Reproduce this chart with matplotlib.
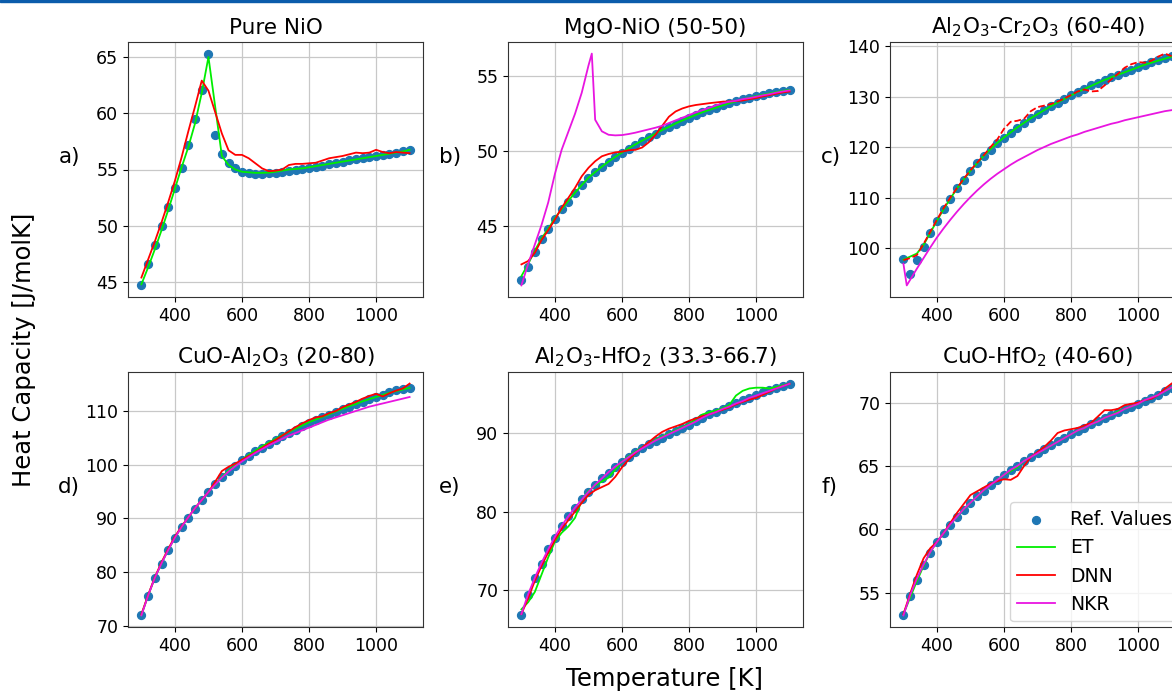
import matplotlib
matplotlib.use("Agg")
import matplotlib.pyplot as plt
from matplotlib.patches import Rectangle
from matplotlib.ticker import MultipleLocator

# ---------------- data ----------------
T = list(range(300, 1101, 20))

titles = ["Pure NiO", "MgO-NiO (50-50)", r"Al$_2$O$_3$-Cr$_2$O$_3$ (60-40)",
          r"CuO-Al$_2$O$_3$ (20-80)", r"Al$_2$O$_3$-HfO$_2$ (33.3-66.7)", r"CuO-HfO$_2$ (40-60)"]
panel_labels = ["a)", "b)", "c)", "d)", "e)", "f)"]
y_steps = [5, 5, 10, 10, 10, 5]

# a) Pure NiO
ref_a = [44.7, 46.6, 48.3, 50.0, 51.7, 53.4, 55.1, 57.2, 59.5, 62.1, 65.3, 58.1, 56.4, 55.6, 55.1,
         54.8, 54.65, 54.6, 54.6, 54.65, 54.7, 54.8, 54.85, 54.95, 55.05, 55.1, 55.2, 55.3, 55.45,
         55.6, 55.7, 55.8, 55.9, 56.0, 56.1, 56.2, 56.3, 56.4, 56.5, 56.6, 56.7]
et_a = [44.8, 46.3, 47.9, 49.6, 51.4, 53.3, 55.2, 57.0, 59.1, 61.8, 65.0, 60.6, 56.2, 55.4, 55.0,
        54.8, 54.75, 54.7, 54.7, 54.72, 54.8, 54.9, 55.0, 55.05, 55.1, 55.2, 55.3, 55.4, 55.5,
        55.6, 55.7, 55.8, 55.9, 56.0, 56.1, 56.2, 56.3, 56.4, 56.5, 56.6, 56.75]
dnn_a = [45.4, 47.0, 48.6, 50.3, 52.1, 54.0, 56.1, 58.4, 60.6, 62.9, 62.0, 60.1, 58.2, 56.7, 56.3,
         56.3, 56.0, 55.55, 55.1, 54.85, 54.9, 55.0, 55.4, 55.5, 55.5, 55.55, 55.6, 55.8, 56.0,
         56.1, 56.2, 56.35, 56.5, 56.45, 56.5, 56.75, 56.55, 56.45, 56.55, 56.5, 56.45]

# b) MgO-NiO
ref_b = [41.45, 42.3, 43.3, 44.14, 44.8, 45.53, 46.13, 46.66, 47.23, 47.74, 48.23, 48.6, 48.96,
         49.3, 49.62, 49.9, 50.18, 50.45, 50.7, 50.93, 51.17, 51.42, 51.6, 51.84, 52.04, 52.23,
         52.41, 52.6, 52.74, 52.9, 53.05, 53.2, 53.32, 53.45, 53.56, 53.67, 53.76, 53.85, 53.94,
         54.03, 54.1]
et_b = [41.7, 42.5, 43.4, 44.2, 44.85, 45.55, 46.15, 46.7, 47.25, 47.75, 48.25, 48.62, 48.98,
        49.32, 49.63, 49.92, 50.2, 50.46, 50.71, 50.94, 51.18, 51.42, 51.62, 51.85, 52.05, 52.24,
        52.42, 52.6, 52.75, 52.9, 53.05, 53.2, 53.32, 53.45, 53.56, 53.67, 53.76, 53.85, 53.94,
        54.02, 54.08]
dnn_b = [42.48, 42.7, 43.25, 44.1, 44.75, 45.46, 46.24, 46.9, 47.57, 48.34, 48.9, 49.34, 49.67,
         49.82, 49.93, 49.98, 50.07, 50.1, 50.25, 50.6, 51.1, 51.7, 52.3, 52.65, 52.85, 52.99,
         53.08, 53.14, 53.2, 53.25, 53.3, 53.32, 53.34, 53.38, 53.47, 53.54, 53.65, 53.74, 53.83,
         53.92, 53.98]
T_nkr_b = [300, 320, 340, 360, 380, 400, 420, 440, 460, 480, 500, 510, 520, 540, 560, 580, 600,
           620, 640, 660, 680, 700, 720, 740, 760, 780, 800, 820, 840, 860, 880, 900, 920, 940,
           960, 980, 1000, 1020, 1040, 1060, 1080, 1100]
nkr_b = [41.08, 42.5, 43.8, 45.1, 46.6, 48.5, 50.1, 51.3, 52.5, 53.9, 55.7, 56.5, 52.1, 51.33,
         51.1, 51.06, 51.08, 51.15, 51.24, 51.35, 51.46, 51.57, 51.7, 51.88, 52.06, 52.23, 52.41,
         52.59, 52.74, 52.9, 53.05, 53.2, 53.3, 53.36, 53.47, 53.54, 53.63, 53.72, 53.8, 53.9,
         53.98, 54.05]

# c) Al2O3-Cr2O3
ref_c = [97.9, 94.95, 97.6, 100.3, 102.9, 105.45, 107.8, 109.8, 111.8, 113.55, 115.3, 116.75,
         118.2, 119.5, 120.7, 121.85, 122.85, 123.85, 124.85, 125.65, 126.5, 127.3, 128.05, 128.8,
         129.5, 130.25, 130.9, 131.55, 132.2, 132.75, 133.3, 133.85, 134.35, 134.85, 135.3, 135.8,
         136.3, 136.75, 137.2, 137.65, 138.1]
et_c = [97.7, 98.3, 98.9, 100.6, 103.0, 105.4, 107.7, 109.8, 111.8, 113.6, 115.3, 116.8, 118.3,
        119.6, 120.8, 121.9, 122.9, 123.9, 124.8, 125.7, 126.5, 127.3, 128.1, 128.8, 129.5, 130.2,
        130.9, 131.5, 132.1, 132.7, 133.3, 133.8, 134.3, 134.8, 135.3, 135.8, 136.3, 136.7, 137.1,
        137.5, 137.9]
dnn_c = [97.6, 98.0, 98.6, 100.8, 103.2, 105.6, 107.9, 110.0, 111.9, 113.7, 115.4, 116.9, 118.4,
         120.0, 121.5, 123.6, 125.0, 125.2, 125.6, 127.1, 127.9, 128.2, 128.5, 129.0, 129.6, 130.3,
         131.0, 131.4, 131.0, 131.1, 132.2, 133.4, 134.5, 135.7, 136.4, 136.8, 136.7, 137.1, 137.9,
         138.5, 138.0]
T_nkr_c = [300, 310, 320, 340, 360, 380, 400, 420, 440, 460, 480, 500, 520, 540, 560, 580, 600,
           620, 640, 660, 680, 700, 720, 740, 760, 780, 800, 820, 840, 860, 880, 900, 920, 940,
           960, 980, 1000, 1020, 1040, 1060, 1080, 1100]
nkr_c = [96.9, 92.6, 93.7, 95.9, 98.0, 100.1, 102.1, 103.9, 105.6, 107.2, 108.7, 110.1, 111.4,
         112.6, 113.7, 114.7, 115.6, 116.5, 117.3, 118.0, 118.7, 119.4, 120.0, 120.6, 121.1, 121.6,
         122.1, 122.5, 123.0, 123.4, 123.8, 124.2, 124.6, 124.9, 125.3, 125.6, 125.9, 126.2, 126.5,
         126.8, 127.1, 127.3]

# d) CuO-Al2O3
ref_d = [71.9, 75.57, 78.8, 81.45, 84.0, 86.3, 88.33, 90.12, 91.8, 93.34, 94.83, 96.3, 97.6,
         98.73, 99.78, 100.77, 101.64, 102.45, 103.19, 103.93, 104.61, 105.3, 105.98, 106.53,
         107.15, 107.7, 108.27, 108.82, 109.32, 109.8, 110.3, 110.8, 111.3, 111.73, 112.17, 112.6,
         113.03, 113.47, 113.84, 114.15, 114.33]
et_d = [72.0, 75.6, 78.9, 81.6, 84.1, 86.4, 88.4, 90.2, 91.9, 93.4, 94.9, 96.3, 97.7, 98.9, 99.9,
        100.9, 101.8, 102.6, 103.4, 104.1, 104.8, 105.5, 106.1, 106.7, 107.3, 107.9, 108.4, 108.9,
        109.4, 109.9, 110.4, 110.9, 111.3, 111.8, 112.2, 112.6, 113.0, 113.4, 113.7, 114.0, 114.3]
dnn_d = [72.1, 75.7, 79.0, 81.8, 84.3, 86.6, 88.5, 90.2, 91.9, 93.4, 94.9, 96.8, 98.8, 99.6, 100.2,
         100.9, 101.6, 102.3, 103.1, 103.9, 104.6, 105.4, 106.2, 107.0, 107.7, 108.3, 108.8, 109.0,
         109.6, 110.0, 110.7, 111.2, 111.7, 112.3, 112.8, 113.2, 112.7, 113.3, 113.8, 114.2, 115.1]
nkr_d = [71.9, 75.6, 78.9, 81.6, 84.1, 86.4, 88.4, 90.2, 91.9, 93.4, 94.9, 96.3, 97.6, 98.7, 99.7,
         100.6, 101.4, 102.2, 102.9, 103.6, 104.2, 104.8, 105.4, 105.9, 106.4, 106.9, 107.4, 107.9,
         108.4, 108.8, 109.2, 109.6, 110.0, 110.4, 110.8, 111.1, 111.4, 111.7, 112.0, 112.3, 112.6]

# e) Al2O3-HfO2
ref_e = [66.83, 69.37, 71.6, 73.38, 75.2, 76.68, 78.16, 79.39, 80.49, 81.54, 82.52, 83.4, 84.2,
         84.93, 85.64, 86.28, 86.91, 87.5, 88.05, 88.56, 88.98, 89.37, 89.79, 90.21, 90.6, 90.97,
         91.48, 91.9, 92.33, 92.66, 93.04, 93.38, 93.72, 94.1, 94.44, 94.78, 95.12, 95.41, 95.71,
         95.96, 96.22]
et_e = [67.6, 68.5, 69.8, 72.0, 74.2, 76.2, 77.3, 78.1, 79.2, 81.4, 82.6, 83.3, 83.8, 84.3, 85.3,
        86.3, 87.0, 87.6, 88.1, 88.6, 89.1, 89.5, 89.9, 90.3, 90.7, 91.1, 91.7, 92.3, 92.6, 92.8,
        93.1, 93.5, 94.7, 95.3, 95.6, 95.7, 95.7, 95.6, 95.8, 96.0, 96.2]
dnn_e = [67.0, 69.0, 71.2, 73.1, 74.8, 76.4, 77.8, 78.9, 80.0, 81.1, 82.1, 82.7, 83.1, 83.5, 84.4,
         85.6, 86.6, 87.4, 88.1, 88.8, 89.5, 90.1, 90.5, 90.8, 91.1, 91.5, 91.8, 92.1, 92.3, 92.6,
         92.9, 93.2, 93.6, 93.9, 94.2, 94.4, 94.8, 95.2, 95.6, 95.9, 96.2]
nkr_e = [67.0, 69.5, 71.6, 73.5, 75.2, 76.8, 78.2, 79.4, 80.5, 81.5, 82.5, 83.4, 84.2, 85.0, 85.7,
         86.3, 86.9, 87.5, 88.0, 88.5, 89.0, 89.4, 89.8, 90.2, 90.6, 91.0, 91.4, 91.9, 92.3, 92.6,
         93.0, 93.3, 93.7, 94.0, 94.4, 94.7, 95.0, 95.3, 95.6, 95.9, 96.2]

# f) CuO-HfO2
ref_f = [53.2, 54.71, 56.03, 57.14, 58.1, 58.97, 59.68, 60.34, 60.98, 61.53, 62.06, 62.59, 63.04,
         63.49, 63.89, 64.29, 64.66, 65.03, 65.37, 65.71, 66.03, 66.35, 66.64, 66.93, 67.22, 67.49,
         67.75, 68.02, 68.28, 68.52, 68.76, 68.99, 69.23, 69.47, 69.68, 69.92, 70.16, 70.37, 70.63,
         70.93, 71.19]
et_f = [53.3, 54.6, 55.9, 57.1, 58.2, 59.0, 59.7, 60.4, 61.0, 61.6, 62.1, 62.6, 63.1, 63.5, 63.9,
        64.3, 64.6, 64.9, 65.4, 65.7, 66.0, 66.3, 66.6, 66.9, 67.2, 67.5, 67.8, 68.0, 68.3, 68.5,
        68.8, 69.0, 69.3, 69.5, 69.7, 69.9, 70.2, 70.4, 70.6, 70.9, 71.2]
dnn_f = [53.3, 54.9, 56.4, 57.7, 58.5, 59.0, 59.7, 60.5, 61.3, 62.0, 62.7, 63.0, 63.3, 63.6, 63.8,
         63.95, 63.9, 64.2, 65.0, 65.7, 66.1, 66.5, 67.0, 67.6, 67.8, 67.9, 68.0, 68.2, 68.4, 68.9,
         69.4, 69.4, 69.5, 69.8, 69.9, 70.0, 70.2, 70.3, 70.6, 71.1, 71.5]
nkr_f = [53.2, 54.8, 56.1, 57.2, 58.2, 59.0, 59.7, 60.4, 61.0, 61.6, 62.1, 62.6, 63.1, 63.5, 63.9,
         64.3, 64.7, 65.0, 65.4, 65.7, 66.0, 66.3, 66.6, 66.9, 67.2, 67.5, 67.8, 68.0, 68.3, 68.5,
         68.8, 69.0, 69.2, 69.5, 69.7, 69.9, 70.2, 70.4, 70.6, 70.9, 71.2]

panels = [
    (ref_a, et_a, dnn_a, None, None),
    (ref_b, et_b, dnn_b, T_nkr_b, nkr_b),
    (ref_c, et_c, dnn_c, T_nkr_c, nkr_c),
    (ref_d, et_d, dnn_d, T, nkr_d),
    (ref_e, et_e, dnn_e, T, nkr_e),
    (ref_f, et_f, dnn_f, T, nkr_f),
]

# ---------------- figure ----------------
W, H = 1172, 692
fig = plt.figure(figsize=(W / 100, H / 100), dpi=100)

col_left = [128, 508, 890]
ax_w = 295
row_top = [42, 372]
ax_h = 255

label_xy = [(69, 157), (450, 157), (831, 157), (69, 487), (450, 487), (830, 487)]

for i, (ref, et, dnn, tn, nkr) in enumerate(panels):
    r, c = divmod(i, 3)
    l = col_left[c]
    t = row_top[r]
    ax = fig.add_axes([l / W, 1 - (t + ax_h) / H, ax_w / W, ax_h / H])
    ax.grid(True, color="#c8c8c8", linewidth=0.9)
    ax.set_axisbelow(True)
    ax.scatter(T, ref, s=32, color="#1f77b4", zorder=2, label="Ref. Values")
    ax.plot(T, et, color="#00ee00", lw=1.3, zorder=3, label="ET")
    ls = "--" if i == 2 else "-"
    ax.plot(T, dnn, color="red", lw=1.3, ls=ls, zorder=4, label="DNN")
    if nkr is not None:
        ax.plot(tn, nkr, color="#e815e0", lw=1.3, zorder=5, label="NKR")
    ax.set_xticks([400, 600, 800, 1000])
    ax.yaxis.set_major_locator(MultipleLocator(y_steps[i]))
    ax.tick_params(labelsize=12.5)
    for s in ax.spines.values():
        s.set_color("#333333")
    ax.set_title(titles[i], fontsize=15.5)
    fig.text(label_xy[i][0] / W, 1 - label_xy[i][1] / H, panel_labels[i],
             fontsize=15.5, ha="center", va="center")
    if i == 5:
        ax.legend(loc="lower right", fontsize=13.5, borderaxespad=0.3)

fig.text(24 / W, 1 - 350 / H, "Heat Capacity [J/molK]", rotation=90,
         fontsize=17.5, ha="center", va="center")
fig.text(665 / W, 1 - 679 / H, "Temperature [K]", fontsize=17.5, ha="center", va="center")

fig.add_artist(Rectangle((0, 1 - 2 / H), 1, 2 / H, transform=fig.transFigure,
                         color="#0b5cab", zorder=10))

fig.savefig("out.png", dpi=100)
